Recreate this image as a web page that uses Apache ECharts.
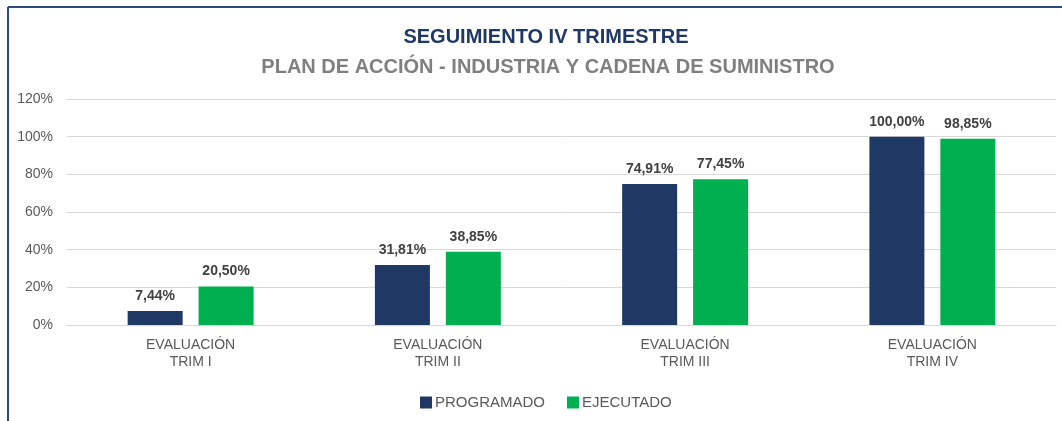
<!DOCTYPE html>
<html>
<head>
<meta charset="utf-8">
<style>
  html, body { margin: 0; padding: 0; background: #fff; }
  #chart { width: 1062px; height: 421px; }
</style>
<script src="https://cdn.jsdelivr.net/npm/echarts@6/dist/echarts.min.js"></script>
</head>
<body>
<div id="chart"></div>
<script>
var categories = ['EVALUACIÓN\nTRIM I', 'EVALUACIÓN\nTRIM II', 'EVALUACIÓN\nTRIM III', 'EVALUACIÓN\nTRIM IV'];
var programado = [7.44, 31.81, 74.91, 100.00];
var ejecutado = [20.50, 38.85, 77.45, 98.85];
var yTicks = [0, 20, 40, 60, 80, 100, 120];

var narrow = '"Liberation Sans Narrow", "Arial Narrow", "Liberation Sans", Arial, sans-serif';

function pct(v){
    return v.toFixed(2).replace('.', ',') + '%';
}

var myChart = echarts.init(document.getElementById('chart'));
var option = {
    backgroundColor: '#fff',
    animation: false,
    title: [{
        text: 'SEGUIMIENTO IV TRIMESTRE',
        left: 541,
        top: 22,
        textAlign: 'center',
        textStyle: { color: '#1F3864', fontSize: 20, fontWeight: 'bold', fontFamily: narrow }
    }, {
        text: 'PLAN DE ACCIÓN - INDUSTRIA Y CADENA DE SUMINISTRO',
        left: 543,
        top: 52,
        textAlign: 'center',
        textStyle: { color: '#7F7F7F', fontSize: 20, fontWeight: 'bold', fontFamily: narrow }
    }],
    graphic: [
        { type: 'line', shape: { x1: 8, y1: 7, x2: 1062, y2: 7 }, style: { stroke: '#2E4A7D', lineWidth: 2 } },
        { type: 'line', shape: { x1: 8, y1: 7, x2: 8, y2: 421 }, style: { stroke: '#2E4A7D', lineWidth: 2 } }
    ],
    legend: {
        data: ['PROGRAMADO', 'EJECUTADO'],
        left: 415,
        top: 390,
        itemWidth: 12,
        itemHeight: 12,
        itemGap: 22,
        icon: 'rect',
        textStyle: { color: '#595959', fontSize: 15, fontFamily: narrow, padding: [0, 0, 0, -2] }
    },
    grid: { left: 67, right: 6, top: 99, bottom: 96, containLabel: false },
    xAxis: {
        type: 'category',
        data: categories,
        axisLine: { lineStyle: { color: '#D9D9D9', width: 1 } },
        axisTick: { show: false },
        axisLabel: { color: '#595959', fontSize: 14, fontFamily: narrow, lineHeight: 17, margin: 12 }
    },
    yAxis: {
        type: 'value',
        min: yTicks[0],
        max: yTicks[yTicks.length - 1],
        interval: 20,
        axisLine: { show: false },
        axisTick: { show: false },
        splitLine: { lineStyle: { color: '#D9D9D9', width: 1 } },
        axisLabel: { color: '#595959', fontSize: 14, fontFamily: narrow, margin: 14, formatter: '{value}%' }
    },
    series: [{
        name: 'PROGRAMADO',
        type: 'bar',
        data: programado,
        barWidth: 55,
        barGap: '29%',
        itemStyle: { color: '#1F3864' },
        label: {
            show: true, position: 'top', distance: 8,
            color: '#404040', fontSize: 14, fontWeight: 'bold', fontFamily: narrow,
            formatter: function(p){ return pct(p.value); }
        }
    }, {
        name: 'EJECUTADO',
        type: 'bar',
        data: ejecutado,
        barWidth: 55,
        itemStyle: { color: '#00B050' },
        label: {
            show: true, position: 'top', distance: 8,
            color: '#404040', fontSize: 14, fontWeight: 'bold', fontFamily: narrow,
            formatter: function(p){ return pct(p.value); }
        }
    }]
};
myChart.setOption(option);
</script>
</body>
</html>
